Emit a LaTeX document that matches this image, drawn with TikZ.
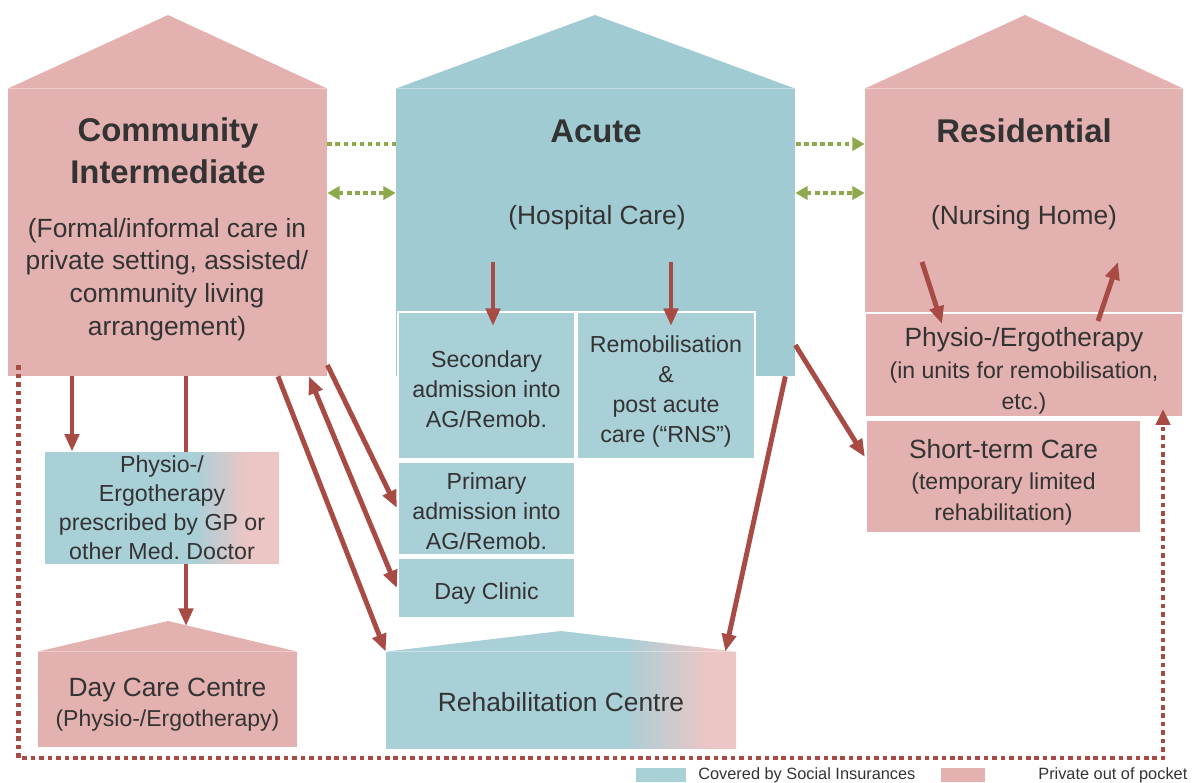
\documentclass[tikz,border=0pt]{standalone}
\usepackage{fontspec}
\setmainfont{Liberation Sans}
\usetikzlibrary{arrows.meta,calc}
\definecolor{housepink}{HTML}{E3B1AF}
\definecolor{acuteblue}{HTML}{A1CBD3}
\definecolor{boxblue}{HTML}{A9CFD7}
\definecolor{lightpink}{HTML}{EBC6C5}
\definecolor{arrred}{HTML}{A84B45}
\definecolor{dotgreen}{HTML}{8EA84E}
\definecolor{txt}{HTML}{333333}
\pgfdeclarehorizontalshading{gpshade}{100bp}{color(0bp)=(boxblue); color(57bp)=(boxblue); color(68bp)=(lightpink); color(100bp)=(lightpink)}
\pgfdeclarehorizontalshading{rehabshade}{100bp}{color(0bp)=(boxblue); color(59bp)=(boxblue); color(71bp)=(lightpink); color(100bp)=(lightpink)}
\frenchspacing
\begin{document}
\begin{tikzpicture}[x=0.02cm,y=-0.02cm,
  every node/.style={text=txt,align=center},
  sz/.style 2 args={minimum width=#1*0.02cm,minimum height=#2*0.02cm,inner sep=0pt},
  subbox/.style={fill=boxblue,draw=white,line width=1.2pt},
  subpink/.style={fill=housepink,draw=white,line width=1.2pt},
  titletxt/.style={font=\fontsize{18.7}{23.8}\selectfont\bfseries},
  bigtxt/.style={font=\fontsize{15}{18.7}\selectfont},
  smalltxt/.style={font=\fontsize{13.2}{17}\selectfont},
  redarr/.style={draw=arrred,line width=2.8pt,-{Triangle[length=10pt,width=8pt]}},
  grnarr/.style={draw=dotgreen,line width=2.6pt,dash pattern=on 2.6pt off 2pt},
  reddot/.style={draw=arrred,line width=2.6pt,dash pattern=on 2.6pt off 2.2pt}]
\useasboundingbox (0,0) rectangle (1197,782);

% houses
\node[sz={319}{287},fill=housepink] (comm) at (167.5,232.5) {};
\fill[housepink] (comm.north west) -- (168,15) -- (comm.north east) -- cycle;
\node[sz={318}{223},fill=housepink] (resi) at (1024,200.5) {};
\fill[housepink] (resi.north west) -- (1025,15) -- (resi.north east) -- cycle;
\draw[grnarr,-{Triangle[length=7pt,width=7.5pt]}] (comm.east |- 0,144) -- (resi.west |- 0,144);
\node[sz={399}{287},fill=acuteblue] (acute) at (595.5,232.5) {};
\fill[acuteblue] (acute.north west) -- (595,15) -- (acute.north east) -- cycle;

\node[subbox,sz={177}{147}] (sec) at (486.5,385.5) {};
\node[subbox,sz={178}{147}] (remob) at (666,385.5) {};
\node[subbox,sz={177}{93}] (prim) at (486.5,508.5) {};
\node[subbox,sz={177}{60}] (dclin) at (486.5,588) {};
\node[smalltxt] (sectxt) at ($(sec)+(0,4)$) {Secondary\\admission into\\AG/Remob.};
\node[smalltxt] (remobtxt) at ($(remob)+(0,6)$) {Remobilisation\\\&\\post acute\\care (“RNS”)};
\node[smalltxt] (primtxt) at ($(prim)+(0,3)$) {Primary\\admission into\\AG/Remob.};
\node[smalltxt] (dclintxt) at ($(dclin)+(0,5)$) {Day Clinic};

\node[subpink,sz={318}{104}] (physres) at (1024,365) {};
\node[subpink,sz={275}{113}] (short) at (1003.5,476.5) {};
\node[font=\fontsize{13.1}{18}\selectfont] (physrestxt) at ($(physres)+(0,6)$)
  {{\fontsize{15}{18}\selectfont Physio-/Ergotherapy}\\(in units for remobilisation,\\etc.)};
\node[font=\fontsize{13.1}{17.5}\selectfont] (shorttxt) at ($(short)+(0,6)$)
  {{\fontsize{15}{18}\selectfont Short-term Care}\\(temporary limited\\rehabilitation)};

\coordinate (dcroof) at (168,621);
\node[sz={259}{95},fill=housepink] (daycare) at (167.5,699.5) {};
\fill[housepink] (daycare.north west) -- (dcroof) -- (daycare.north east) -- cycle;
\node[font=\fontsize{13.1}{17}\selectfont] (daycaretxt) at ($(daycare)+(0,5)$)
  {{\fontsize{15}{17}\selectfont Day Care Centre}\\(Physio-/Ergotherapy)};
\node[sz={350}{96},shade,shading=rehabshade] (rehab) at (561,700) {};
\shade[shading=rehabshade] (rehab.north west) -- (561,631) -- (rehab.north east) -- cycle;
\node[bigtxt] (rehabtxt) at ($(rehab)+(0,2)$) {Rehabilitation Centre};

\draw[redarr] (comm.south -| 186,0) -- ($(dcroof)+(18,5)$);
\node[sz={234}{111},shade,shading=gpshade,font=\fontsize{13.2}{16.5}\selectfont] (gp) at (162,507.5)
  {Physio-/\\Ergotherapy\\prescribed by GP or\\other Med. Doctor};

% arrows
\draw[redarr] (comm.south -| 72,0) -- (gp.north -| 72,0);
\draw[redarr] (comm.east |- 0,365) -- (prim.west |- 0,508);
\draw[redarr,{Triangle[length=10pt,width=8pt]}-{Triangle[length=10pt,width=8pt]}] (comm.south -| 309,0) -- (dclin.west |- 0,588);
\draw[redarr] (comm.south -| 278,0) -- (rehab.north west);
\draw[redarr] ($(sec.north)+(6.5,-49)$) -- ($(sec.north)+(6.5,15)$);
\draw[redarr] ($(remob.north)+(5,-49)$) -- ($(remob.north)+(5,15)$);
\draw[redarr] ($(acute.south east)+(-10,0)$) -- ($(rehab.north east)+(-11,0)$);
\draw[redarr] (acute.east |- 0,345) -- (short.west |- 0,457);
\draw[redarr] ($(physres.north)+(-102,-50)$) -- ($(physres.north)+(-82,12)$);
\draw[redarr] ($(physres.north)+(74,9)$) -- ($(physres.north)+(94,-50)$);
\draw[grnarr,{Triangle[length=7pt,width=7.5pt]}-{Triangle[length=7pt,width=7.5pt]}] (comm.east |- 0,193) -- (acute.west |- 0,193);
\draw[grnarr,{Triangle[length=7pt,width=7.5pt]}-{Triangle[length=7pt,width=7.5pt]}] (acute.east |- 0,193) -- (resi.west |- 0,193);
\coordinate (loopbr) at (1163,758);
\draw[reddot,-{Triangle[length=9pt,width=8pt]}] ($(comm.south west)+(11,-11)$) |- (loopbr) -- ($(physres.south)+(139,-9)$);

% texts
\node[titletxt] (commtitle) at (168,151) {Community\\Intermediate};
\node[bigtxt] (commdesc) at (167,279.5) {(Formal/informal care in\\private setting, assisted/\\community living\\arrangement)};
\node[titletxt] (acutetitle) at (596,131) {Acute};
\node[bigtxt] (acutedesc) at (597,218) {(Hospital Care)};
\node[titletxt] (resititle) at (1024,131) {Residential};
\node[bigtxt] (residesc) at (1024,218) {(Nursing Home)};

% legend
\node[sz={50}{14},fill=boxblue] (legblue) at (661,775) {};
\node[anchor=west,inner sep=0pt,font=\fontsize{9.3}{11}\selectfont] (legbluetxt) at (698,775) {Covered by Social Insurances};
\node[sz={44}{14},fill=housepink] (legpink) at (963,775) {};
\node[anchor=west,inner sep=0pt,font=\fontsize{9.3}{11}\selectfont] (legpinktxt) at (1038,775) {Private out of pocket};
\end{tikzpicture}
\end{document}
